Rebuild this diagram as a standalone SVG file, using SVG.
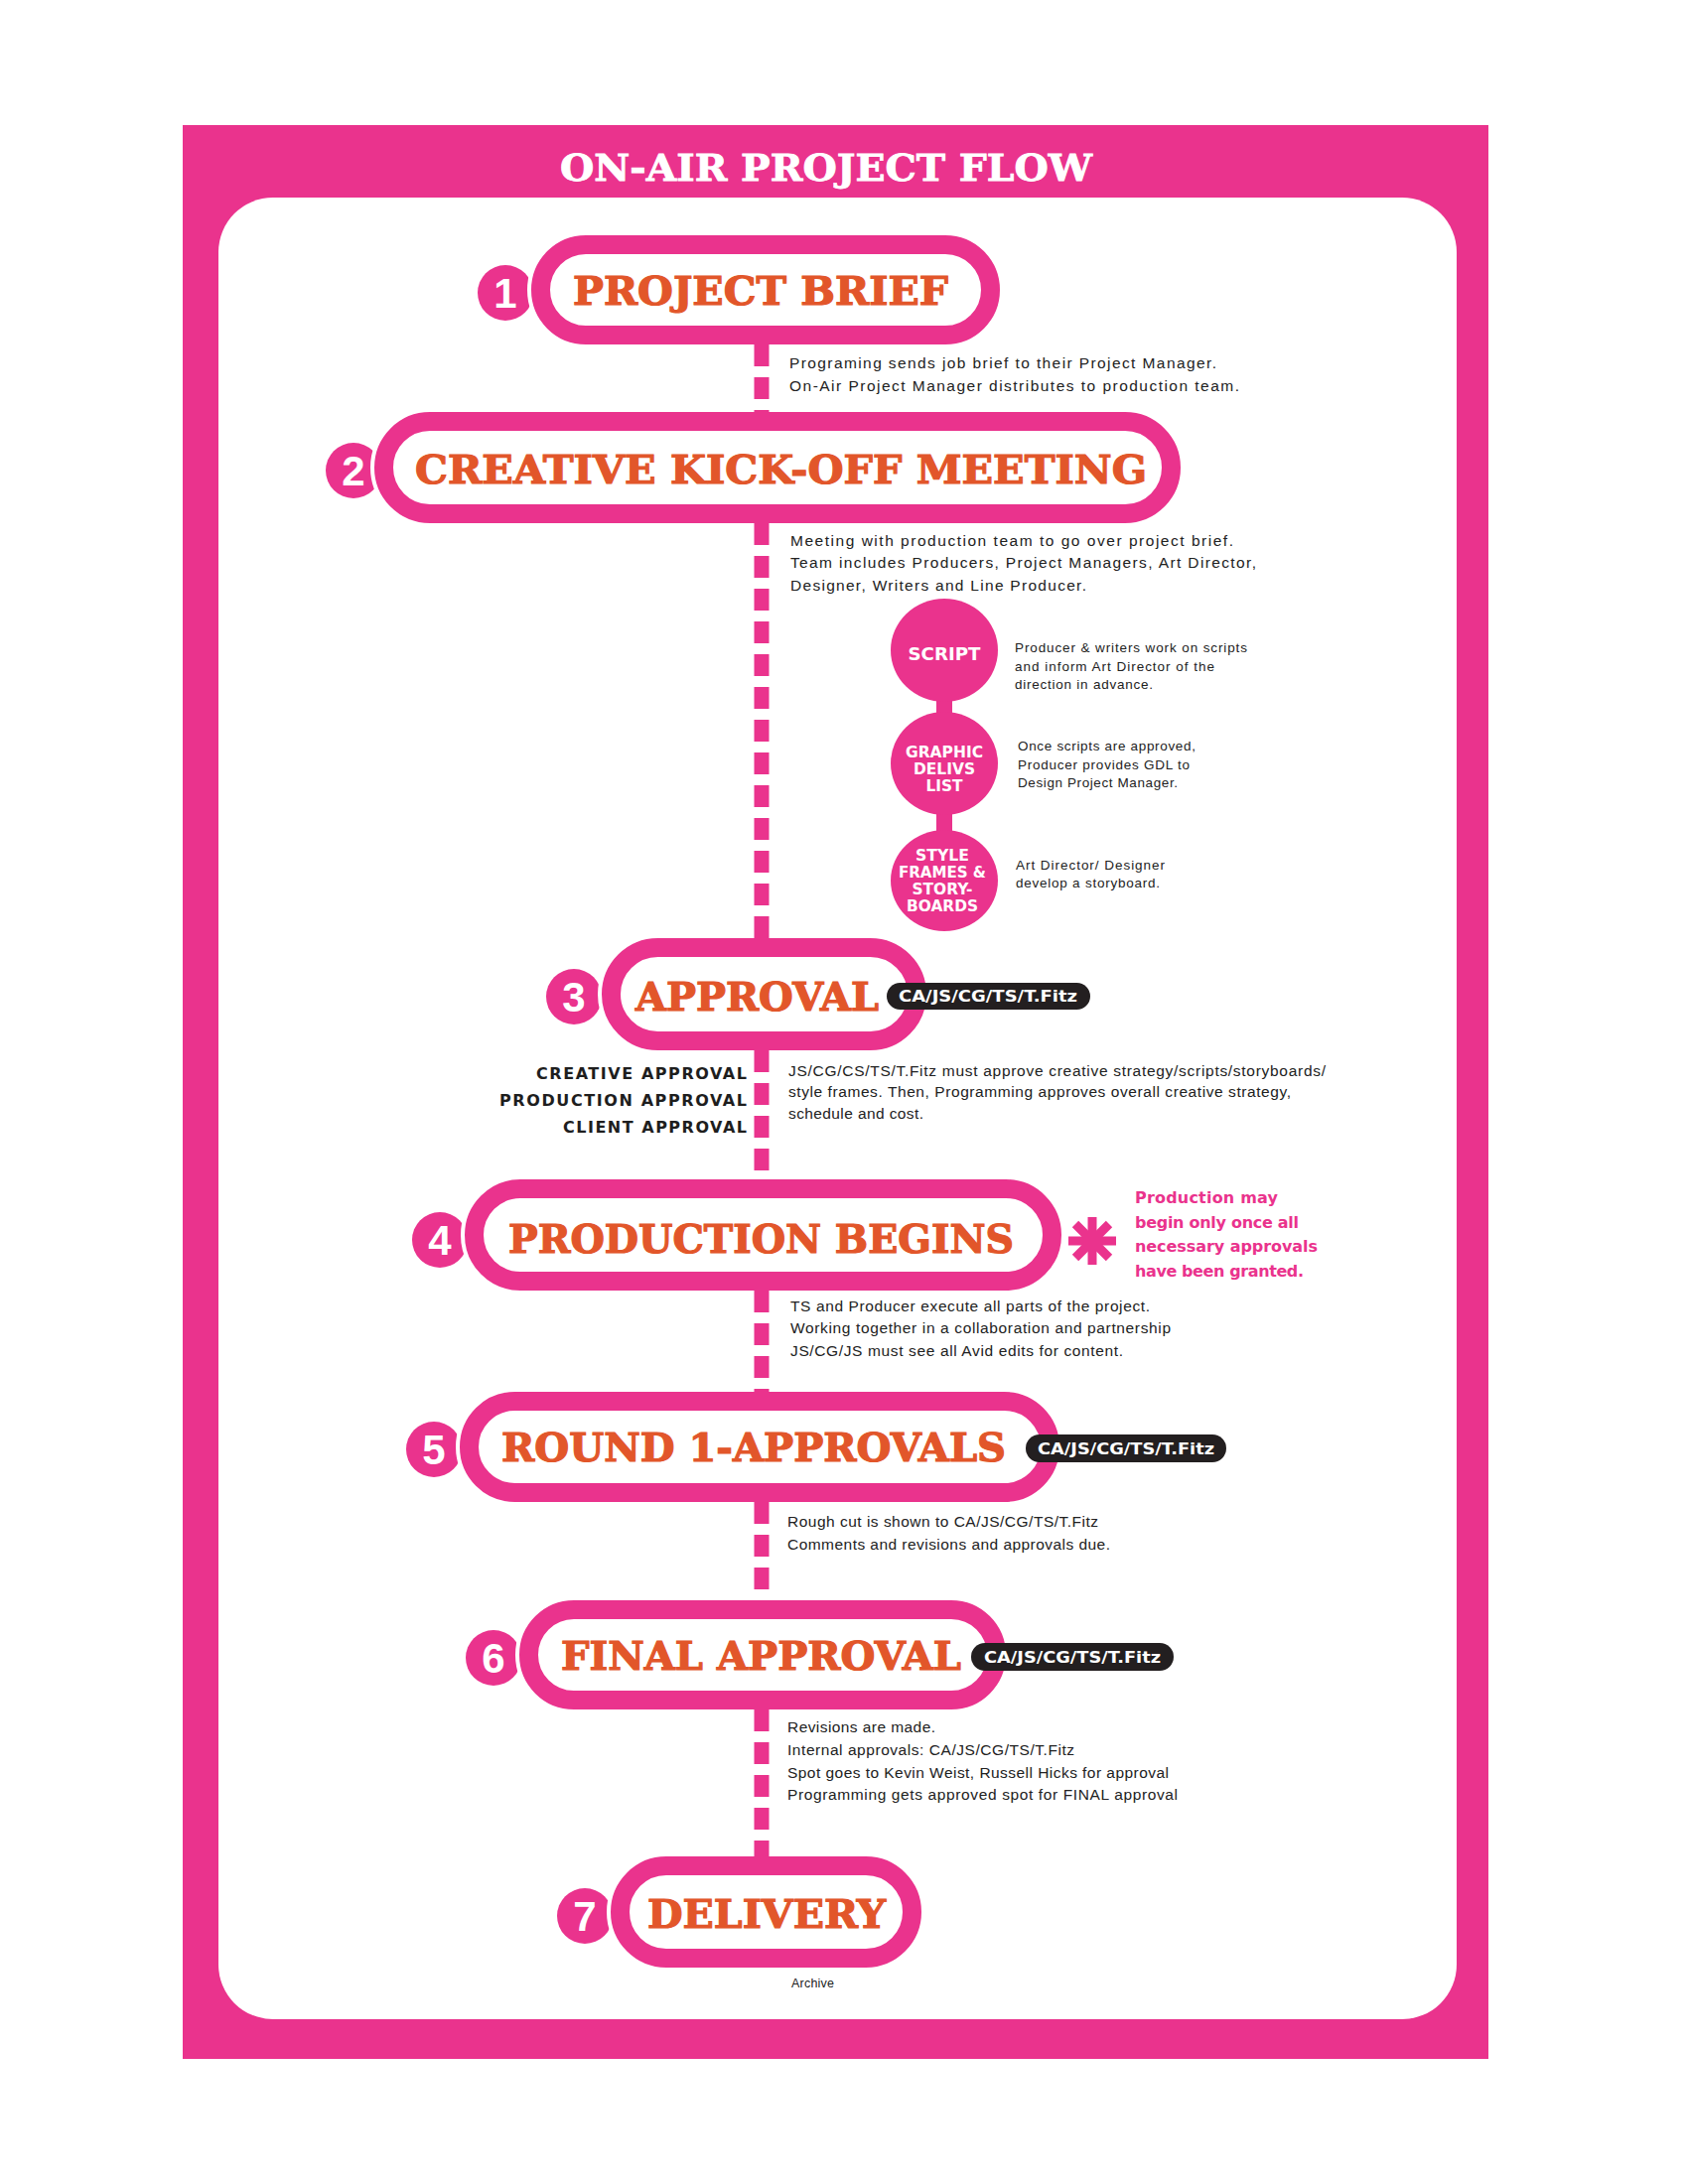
<svg xmlns="http://www.w3.org/2000/svg" width="1700" height="2200" viewBox="0 0 1700 2200">
<style>
.pink{fill:#EA338D}
.halo{fill:none;stroke:#FFFFFF;stroke-width:27}
.pill{fill:#FFFFFF;stroke:#EA338D;stroke-width:19}
.num{font-family:"Liberation Sans","Arial",sans-serif;font-weight:bold;font-size:42px;fill:#FFFFFF;text-anchor:middle}
.head{font-family:"DejaVu Serif","Liberation Serif",serif;font-weight:bold;font-size:40px;fill:#E2562A;stroke:#E2562A;stroke-width:1.2}
.title{font-family:"DejaVu Serif","Liberation Serif",serif;font-weight:bold;font-size:37px;fill:#FFFFFF;stroke:#FFFFFF;stroke-width:0.8}
.body{font-family:"Liberation Sans","Arial",sans-serif;font-size:15.5px;fill:#222222}
.small{font-family:"Liberation Sans","Arial",sans-serif;font-size:13.5px;fill:#222222}
.lab{font-family:"DejaVu Sans","Liberation Sans",sans-serif;font-weight:bold;font-size:16px;fill:#1E1E1E;text-anchor:end}
.bub{font-family:"DejaVu Sans","Liberation Sans",sans-serif;font-weight:bold;font-size:15px;fill:#FFFFFF;text-anchor:middle}
.tag{fill:#231F20}
.tagt{font-family:"DejaVu Sans","Liberation Sans",sans-serif;font-weight:bold;font-size:15.5px;fill:#FFFFFF;text-anchor:middle}
.note{font-family:"DejaVu Sans","Liberation Sans",sans-serif;font-weight:bold;font-size:16px;fill:#EA338D}
.conn{stroke:#EA338D;stroke-width:15;stroke-dasharray:22 11;fill:none}
</style>

<g id="frame">
<rect x="184" y="126" width="1315" height="1948" class="pink"/>
<rect x="220" y="199" width="1247" height="1835" rx="55" ry="55" fill="#FFFFFF"/>
<text x="564" y="182" class="title" textLength="536" lengthAdjust="spacingAndGlyphs">ON-AIR PROJECT FLOW</text>
</g>

<g id="node1">
<circle cx="509" cy="295" r="28" class="pink"/>
<text x="509" y="310" class="num">1</text>
<rect x="544.5" y="246.5" width="453" height="91" rx="45.5" class="halo"/>
<rect x="544.5" y="246.5" width="453" height="91" rx="45.5" class="pill"/>
<text x="577" y="307" class="head" textLength="378" lengthAdjust="spacingAndGlyphs">PROJECT BRIEF</text>
<text x="795" y="371" class="body" textLength="430" lengthAdjust="spacing">Programing sends job brief to their Project Manager.</text>
<text x="795" y="394" class="body" textLength="453" lengthAdjust="spacing">On-Air Project Manager distributes to production team.</text>
</g>

<g id="node2">
<circle cx="356" cy="474" r="28" class="pink"/>
<text x="356" y="489" class="num">2</text>
<rect x="386.5" y="424.5" width="793" height="93" rx="46.5" class="halo"/>
<rect x="386.5" y="424.5" width="793" height="93" rx="46.5" class="pill"/>
<text x="418" y="487" class="head" textLength="737" lengthAdjust="spacingAndGlyphs">CREATIVE KICK-OFF MEETING</text>
<text x="796" y="550" class="body" textLength="446" lengthAdjust="spacing">Meeting with production team to go over project brief.</text>
<text x="796" y="572" class="body" textLength="469" lengthAdjust="spacing">Team includes Producers, Project Managers, Art Director,</text>
<text x="796" y="595" class="body" textLength="298" lengthAdjust="spacing">Designer, Writers and Line Producer.</text>
</g>

<g id="bubbles">
<rect x="943" y="700" width="16" height="26" class="pink"/>
<rect x="943" y="815" width="16" height="26" class="pink"/>
<ellipse cx="951" cy="655" rx="54" ry="52" class="pink"/>
<ellipse cx="951" cy="769" rx="54" ry="52" class="pink"/>
<ellipse cx="951" cy="887" rx="54" ry="51" class="pink"/>
<text x="951" y="665" class="bub" style="font-size:18px" textLength="73" lengthAdjust="spacingAndGlyphs">SCRIPT</text>
<text x="951" y="763" class="bub" textLength="78" lengthAdjust="spacingAndGlyphs">GRAPHIC</text>
<text x="951" y="780" class="bub" textLength="62" lengthAdjust="spacingAndGlyphs">DELIVS</text>
<text x="951" y="797" class="bub" textLength="37" lengthAdjust="spacingAndGlyphs">LIST</text>
<text x="949" y="867" class="bub" textLength="54" lengthAdjust="spacingAndGlyphs">STYLE</text>
<text x="949" y="884" class="bub" textLength="88" lengthAdjust="spacingAndGlyphs">FRAMES &amp;</text>
<text x="949" y="901" class="bub" textLength="61" lengthAdjust="spacingAndGlyphs">STORY-</text>
<text x="949" y="918" class="bub" textLength="72" lengthAdjust="spacingAndGlyphs">BOARDS</text>
<text x="1022" y="657" class="small" textLength="234" lengthAdjust="spacing">Producer &amp; writers work on scripts</text>
<text x="1022" y="676" class="small" textLength="201" lengthAdjust="spacing">and inform Art Director of the</text>
<text x="1022" y="694" class="small" textLength="139" lengthAdjust="spacing">direction in advance.</text>
<text x="1025" y="756" class="small" textLength="179" lengthAdjust="spacing">Once scripts are approved,</text>
<text x="1025" y="775" class="small" textLength="173" lengthAdjust="spacing">Producer provides GDL to</text>
<text x="1025" y="793" class="small" textLength="161" lengthAdjust="spacing">Design Project Manager.</text>
<text x="1023" y="876" class="small" textLength="150" lengthAdjust="spacing">Art Director/ Designer</text>
<text x="1023" y="894" class="small" textLength="145" lengthAdjust="spacing">develop a storyboard.</text>
</g>

<g id="node3">
<circle cx="578" cy="1004" r="28" class="pink"/>
<text x="578" y="1019" class="num">3</text>
<rect x="615.5" y="954.5" width="308" height="94" rx="47" class="halo"/>
<rect x="615.5" y="954.5" width="308" height="94" rx="47" class="pill"/>
<text x="640" y="1018" class="head" textLength="245" lengthAdjust="spacingAndGlyphs">APPROVAL</text>
<rect x="893" y="990" width="205" height="27" rx="13.5" class="tag"/>
<text x="995" y="1009" class="tagt" textLength="180" lengthAdjust="spacingAndGlyphs">CA/JS/CG/TS/T.Fitz</text>
<text x="752" y="1087" class="lab" textLength="212" lengthAdjust="spacing">CREATIVE APPROVAL</text>
<text x="752" y="1114" class="lab" textLength="249" lengthAdjust="spacing">PRODUCTION  APPROVAL</text>
<text x="752" y="1141" class="lab" textLength="185" lengthAdjust="spacing">CLIENT APPROVAL</text>
<text x="794" y="1084" class="body" textLength="541" lengthAdjust="spacing">JS/CG/CS/TS/T.Fitz must approve creative strategy/scripts/storyboards/</text>
<text x="794" y="1105" class="body" textLength="506" lengthAdjust="spacing">style frames. Then, Programming approves overall creative strategy,</text>
<text x="794" y="1127" class="body" textLength="136" lengthAdjust="spacing">schedule and cost.</text>
</g>

<g id="node4">
<circle cx="443" cy="1249" r="28" class="pink"/>
<text x="443" y="1264" class="num">4</text>
<rect x="477.5" y="1197.5" width="582" height="93" rx="46.5" class="halo"/>
<rect x="477.5" y="1197.5" width="582" height="93" rx="46.5" class="pill"/>
<text x="512" y="1262" class="head" textLength="509" lengthAdjust="spacingAndGlyphs">PRODUCTION BEGINS</text>
<g stroke="#EA338D" stroke-width="9" stroke-linecap="butt">
<line x1="1100" y1="1226" x2="1100" y2="1274"/>
<line x1="1076" y1="1250" x2="1124" y2="1250"/>
<line x1="1083" y1="1233" x2="1117" y2="1267"/>
<line x1="1083" y1="1267" x2="1117" y2="1233"/>
</g>
<text x="1143" y="1212" class="note" textLength="144" lengthAdjust="spacing">Production may</text>
<text x="1143" y="1237" class="note" textLength="165" lengthAdjust="spacing">begin only once all</text>
<text x="1143" y="1261" class="note" textLength="184" lengthAdjust="spacing">necessary approvals</text>
<text x="1143" y="1286" class="note" textLength="170" lengthAdjust="spacing">have been granted.</text>
<text x="796" y="1321" class="body" textLength="362" lengthAdjust="spacing">TS and Producer execute all parts of the project.</text>
<text x="796" y="1343" class="body" textLength="383" lengthAdjust="spacing">Working together in a collaboration and partnership</text>
<text x="796" y="1366" class="body" textLength="335" lengthAdjust="spacing">JS/CG/JS must see all Avid edits for content.</text>
</g>

<g id="node5">
<circle cx="437" cy="1460" r="28" class="pink"/>
<text x="437" y="1475" class="num">5</text>
<rect x="472.5" y="1411.5" width="585" height="92" rx="46" class="halo"/>
<rect x="472.5" y="1411.5" width="585" height="92" rx="46" class="pill"/>
<text x="505" y="1472" class="head" textLength="508" lengthAdjust="spacingAndGlyphs">ROUND 1-APPROVALS</text>
<rect x="1033" y="1445" width="202" height="28" rx="14" class="tag"/>
<text x="1134" y="1465" class="tagt" textLength="178" lengthAdjust="spacingAndGlyphs">CA/JS/CG/TS/T.Fitz</text>
<text x="793" y="1538" class="body" textLength="313" lengthAdjust="spacing">Rough cut is shown to CA/JS/CG/TS/T.Fitz</text>
<text x="793" y="1561" class="body" textLength="325" lengthAdjust="spacing">Comments and revisions and approvals due.</text>
</g>

<g id="node6">
<circle cx="497" cy="1670" r="28" class="pink"/>
<text x="497" y="1685" class="num">6</text>
<rect x="532.5" y="1621.5" width="471" height="91" rx="45.5" class="halo"/>
<rect x="532.5" y="1621.5" width="471" height="91" rx="45.5" class="pill"/>
<text x="565" y="1682" class="head" textLength="403" lengthAdjust="spacingAndGlyphs">FINAL APPROVAL</text>
<rect x="978" y="1655" width="204" height="28" rx="14" class="tag"/>
<text x="1080" y="1675" class="tagt" textLength="178" lengthAdjust="spacingAndGlyphs">CA/JS/CG/TS/T.Fitz</text>
<text x="793" y="1745" class="body" textLength="149" lengthAdjust="spacing">Revisions are made.</text>
<text x="793" y="1768" class="body" textLength="289" lengthAdjust="spacing">Internal approvals: CA/JS/CG/TS/T.Fitz</text>
<text x="793" y="1791" class="body" textLength="384" lengthAdjust="spacing">Spot goes to Kevin Weist, Russell Hicks for approval</text>
<text x="793" y="1813" class="body" textLength="393" lengthAdjust="spacing">Programming gets approved spot for FINAL approval</text>
</g>

<g id="node7">
<circle cx="589" cy="1930" r="28" class="pink"/>
<text x="589" y="1945" class="num">7</text>
<rect x="624.5" y="1879.5" width="294" height="93" rx="46.5" class="halo"/>
<rect x="624.5" y="1879.5" width="294" height="93" rx="46.5" class="pill"/>
<text x="652" y="1942" class="head" textLength="240" lengthAdjust="spacingAndGlyphs">DELIVERY</text>
<text x="797" y="2002" class="small" style="font-size:12.5px" textLength="43" lengthAdjust="spacing">Archive</text>
</g>

<g id="connectors">
<line x1="767" y1="347" x2="767" y2="415" class="conn"/>
<line x1="767" y1="527" x2="767" y2="945" class="conn"/>
<line x1="767" y1="1058" x2="767" y2="1188" class="conn"/>
<line x1="767" y1="1300" x2="767" y2="1402" class="conn"/>
<line x1="767" y1="1513" x2="767" y2="1612" class="conn"/>
<line x1="767" y1="1722" x2="767" y2="1870" class="conn"/>
</g>
</svg>
